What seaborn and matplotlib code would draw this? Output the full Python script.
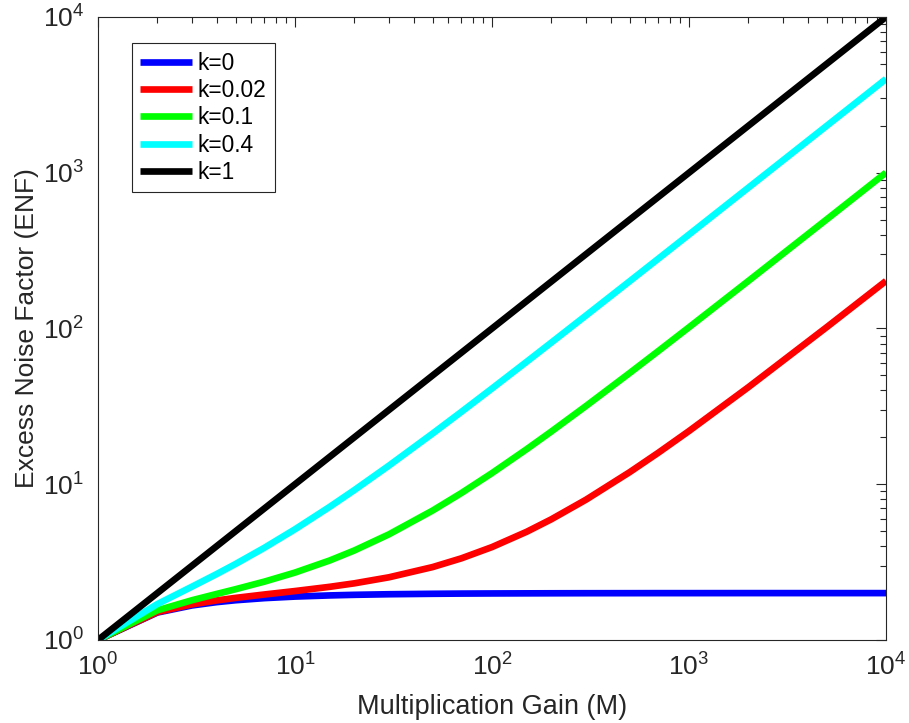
import matplotlib
matplotlib.use("Agg")
import matplotlib.pyplot as plt
import matplotlib.ticker as mticker
import numpy as np
import pandas as pd
import seaborn as sns

# Multiplication gain samples and excess noise factor for each ionization ratio k
gain = [1, 2, 3, 4, 5, 7, 10, 15, 20, 30, 50, 70, 100, 150, 200, 300, 500, 700,
        1000, 2000, 5000, 10000]
enf_k0 = [1.0, 1.5, 1.667, 1.75, 1.8, 1.857, 1.9, 1.933, 1.95, 1.967, 1.98, 1.986,
          1.99, 1.993, 1.995, 1.997, 1.998, 1.999, 1.999, 2.0, 2.0, 2.0]
enf_k002 = [1.0, 1.51, 1.693, 1.795, 1.864, 1.96, 2.062, 2.195, 2.311, 2.527, 2.94,
            3.346, 3.95, 4.953, 5.955, 7.957, 11.958, 15.959, 21.959, 41.96, 101.96,
            201.96]
enf_k01 = [1.0, 1.55, 1.8, 1.975, 2.12, 2.371, 2.71, 3.24, 3.755, 4.77, 6.782, 8.787,
           11.791, 16.794, 21.796, 31.797, 51.798, 71.799, 101.799, 201.8, 501.8,
           1001.8]
enf_k04 = [1.0, 1.7, 2.2, 2.65, 3.08, 3.914, 5.14, 7.16, 9.17, 13.18, 21.188, 29.191,
           41.194, 61.196, 81.197, 121.198, 201.199, 281.2, 401.2, 801.2, 2001.2,
           4001.2]
enf_k1 = [1, 2, 3, 4, 5, 7, 10, 15, 20, 30, 50, 70, 100, 150, 200, 300, 500, 700,
          1000, 2000, 5000, 10000]

labels = ["k=0", "k=0.02", "k=0.1", "k=0.4", "k=1"]
colors = ["#0000ff", "#ff0000", "#00ff00", "#00ffff", "#000000"]
series = [enf_k0, enf_k002, enf_k01, enf_k04, enf_k1]

df = pd.concat(
    [pd.DataFrame({"M": gain, "ENF": vals, "k": lab}) for lab, vals in zip(labels, series)],
    ignore_index=True,
)

sns.set_theme(style="white")
plt.rcParams["font.family"] = ["Liberation Sans", "DejaVu Sans"]
ink = "#262626"
lw = 4.8

fig = plt.figure(figsize=(9.09, 7.23), dpi=100)
ax = fig.add_axes([0.1078, 0.1148, 0.8669, 0.8617])

sns.lineplot(data=df, x="M", y="ENF", hue="k", hue_order=labels,
             palette=dict(zip(labels, colors)), linewidth=lw, ax=ax,
             estimator=None, sort=False)
for line in ax.get_lines():
    line.set_solid_capstyle("butt")

ax.set_xscale("log")
ax.set_yscale("log")
ax.set_xlim(1, 1e4)
ax.set_ylim(1, 1e4)

for axis in (ax.xaxis, ax.yaxis):
    axis.set_major_locator(mticker.LogLocator(base=10, numticks=10))
    axis.set_minor_locator(mticker.LogLocator(base=10, subs=np.arange(2, 10), numticks=20))
    axis.set_minor_formatter(mticker.NullFormatter())

ax.tick_params(which="both", direction="in", top=True, right=True, colors=ink,
               labelsize=19, width=0.8)
ax.tick_params(which="major", length=7)
ax.tick_params(which="minor", length=4)
ax.tick_params(axis="x", which="major", pad=10)
ax.tick_params(axis="y", which="major", pad=10)
for sp in ax.spines.values():
    sp.set_color(ink)
    sp.set_linewidth(0.8)

ax.set_xlabel("Multiplication Gain (M)", fontsize=19.5, color=ink, labelpad=9)
ax.set_ylabel("Excess Noise Factor (ENF)", fontsize=19, color=ink, labelpad=3)

leg = ax.legend(loc="upper left", bbox_to_anchor=(0.043, 0.958), borderaxespad=0,
                fontsize=16.4, frameon=True, fancybox=False, edgecolor=ink,
                framealpha=1, handlelength=2.25, handletextpad=0.28,
                labelspacing=0.19, borderpad=0.37)
leg.get_frame().set_linewidth(0.8)
for line in leg.get_lines():
    line.set_linewidth(lw)
    line.set_solid_capstyle("butt")
for t in leg.get_texts():
    t.set_color("black")

fig.savefig("out.png", dpi=100)
